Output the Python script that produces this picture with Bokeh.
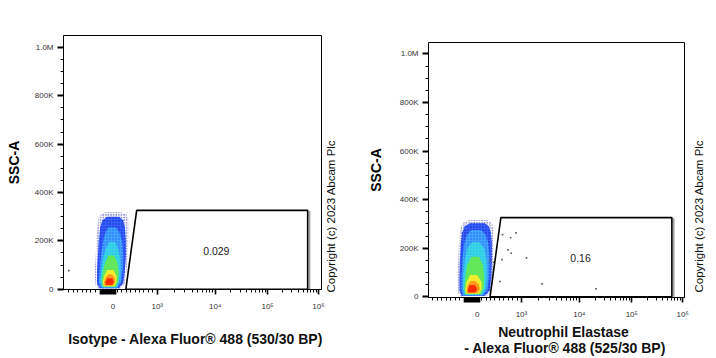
import numpy as np
from bokeh.plotting import figure
from bokeh.models import Range1d, FixedTicker
from bokeh.layouts import row, column
from bokeh.embed import file_html
from bokeh.resources import INLINE
from bokeh.core.properties import value

FONT = "Liberation Sans"

# ---------------- axis scale (biexponential-like display) ----------------
LIN_LIMIT = 1000.0
DECADES = [3, 4, 5, 6]
DECADE_POS = [44.25, 102.2, 154.55, 205.4]


def tx(v):
    v = np.asarray(v, dtype=float)
    lin = v * DECADE_POS[0] / LIN_LIMIT
    lg = np.interp(np.log10(np.maximum(v, LIN_LIMIT)), DECADES, DECADE_POS)
    return np.where(v > LIN_LIMIT, lg, lin)


# ---------------- tick values / labels ----------------
X_TICK_VALUES = [0, 1e3, 1e4, 1e5, 1e6]
X_TICK_LABELS = ["0", "10\u00b3", "10\u2074", "10\u2075", "10\u2076"]
Y_TICK_VALUES = [0, 200e3, 400e3, 600e3, 800e3, 1e6]
Y_TICK_LABELS = ["0", "200K", "400K", "600K", "800K", "1.0M"]
Y_MINOR_STEP = 50e3
X_NEAR_ZERO = list(range(-280, 61, 20))          # dense ticks around zero
X_LINEAR_MINOR = [v for v in range(-1000, 1000, 100) if not -300 <= v <= 60]
X_LOG_MINOR = [k * 10 ** d for d in (3, 4, 5) for k in range(2, 10)]

# ---------------- gate ----------------
GATE_X = [290, 535, 6.15e5, 6.15e5]
GATE_Y = [0, 326e3, 326e3, 0]
GATE_LABEL_X = 1.05e4
GATE_LABEL_Y = 160e3
ISO_GATE_TEXT = "0.029"
NE_GATE_TEXT = "0.16"

# ---------------- density levels (outer -> core): SSC y, FL left/right ----------------
LEVEL_COLORS = ["#1414a8", "#3560ff", "#3fa6ff", "#34d8e0",
                "#62e85a", "#f2ee2e", "#ff9a1a", "#ff2a00"]
LEVEL_SPECKLE = ["#1414a8", "#1020b8", "#2a5cff", "#3fa6ff", None, None, None, None]

ISO_L1 = dict(y=[1e3, 20e3, 80e3, 140e3, 220e3, 280e3, 300e3, 312e3, 318e3],
              xl=[-330, -400, -410, -390, -370, -340, -310, -260, -160],
              xr=[150, 260, 310, 330, 350, 350, 330, 290, 200])
ISO_L2 = dict(y=[4e3, 25e3, 80e3, 140e3, 200e3, 255e3, 285e3, 300e3],
              xl=[-300, -360, -360, -340, -320, -290, -240, -130],
              xr=[130, 230, 270, 290, 290, 270, 230, 140])
ISO_L3 = dict(y=[6e3, 30e3, 80e3, 140e3, 190e3, 230e3, 255e3],
              xl=[-270, -320, -300, -270, -230, -180, -100],
              xr=[100, 180, 220, 230, 210, 160, 70])
ISO_L4 = dict(y=[8e3, 35e3, 80e3, 130e3, 170e3, 195e3],
              xl=[-250, -290, -260, -220, -160, -80],
              xr=[80, 140, 170, 160, 110, 40])
ISO_L5 = dict(y=[10e3, 35e3, 70e3, 110e3, 140e3],
              xl=[-230, -260, -230, -180, -100],
              xr=[60, 120, 130, 100, 30])
ISO_L6 = dict(y=[12e3, 30e3, 55e3, 80e3],
              xl=[-210, -230, -200, -130],
              xr=[30, 80, 80, 10])
ISO_L7 = dict(y=[15e3, 30e3, 48e3, 62e3],
              xl=[-190, -200, -170, -110],
              xr=[0, 50, 40, -20])
ISO_L8 = dict(y=[18e3, 30e3, 45e3],
              xl=[-170, -170, -130],
              xr=[-20, 20, -10])

NE_L1 = dict(y=[1e3, 20e3, 80e3, 150e3, 230e3, 280e3, 300e3, 310e3, 316e3],
             xl=[-380, -440, -450, -430, -410, -380, -340, -290, -180],
             xr=[200, 320, 360, 370, 370, 360, 340, 300, 230])
NE_L2 = dict(y=[4e3, 25e3, 80e3, 150e3, 220e3, 265e3, 290e3, 303e3],
             xl=[-350, -400, -400, -390, -370, -340, -280, -160],
             xr=[170, 280, 320, 330, 330, 310, 260, 170])
NE_L3 = dict(y=[6e3, 30e3, 90e3, 160e3, 220e3, 255e3, 275e3],
             xl=[-320, -360, -350, -330, -290, -230, -130],
             xr=[140, 230, 270, 280, 250, 190, 90])
NE_L4 = dict(y=[8e3, 35e3, 90e3, 150e3, 200e3, 225e3],
             xl=[-290, -320, -310, -280, -220, -120],
             xr=[110, 190, 220, 210, 160, 50])
NE_L5 = dict(y=[10e3, 35e3, 80e3, 130e3, 165e3],
             xl=[-270, -290, -270, -230, -130],
             xr=[80, 150, 160, 130, 40])
NE_L6 = dict(y=[12e3, 30e3, 60e3, 90e3],
             xl=[-250, -270, -240, -160],
             xr=[40, 100, 100, 0])
NE_L7 = dict(y=[15e3, 30e3, 50e3, 65e3],
             xl=[-230, -240, -210, -150],
             xr=[0, 60, 40, -40])
NE_L8 = dict(y=[18e3, 30e3, 48e3],
             xl=[-210, -210, -170],
             xr=[-50, 0, -50])

# ---------------- sparse events ----------------
ISO_OUT_X = [-1000]
ISO_OUT_Y = [77e3]
NE_OUT_X = [572, 877, 757, 696, 768, 560, 1222, 511, 2265, 20750, 294, 375]
NE_OUT_Y = [256e3, 263e3, 243e3, 193e3, 179e3, 153e3, 160e3, 63e3, 53e3, 33e3, 149e3, 142e3]

ISO_XLABEL = ["Isotype - Alexa Fluor\u00ae 488 (530/30 BP)"]
NE_XLABEL = ["Neutrophil Elastase", "- Alexa Fluor\u00ae 488 (525/30 BP)"]
Y_LABEL = "SSC-A"
COPYRIGHT = "Copyright (c) 2023 Abcam Plc"


def strip(w, h):
    s = figure(width=w, height=h, x_range=Range1d(0, w), y_range=Range1d(0, h),
               output_backend="svg", toolbar_location=None,
               x_axis_location=None, y_axis_location=None, min_border=0)
    s.grid.visible = False
    s.outline_line_color = None
    s.background_fill_color = "white"
    s.border_fill_color = "white"
    return s


def make_panel(levels, out_x, out_y, gate_text, geom, ylabel_standoff):
    fl, ft, fw, fh, xrng, yrng, w, h = geom
    p = figure(width=w, height=h, x_range=Range1d(*xrng), y_range=Range1d(*yrng),
               output_backend="svg", toolbar_location=None,
               min_border_left=fl, min_border_right=w - (fl + fw),
               min_border_top=ft, min_border_bottom=h - ft - fh)
    p.grid.visible = False
    p.outline_line_color = "black"
    p.outline_line_width = 1
    p.background_fill_color = "white"
    p.border_fill_color = "white"

    # density levels
    for lev, col, spk in zip(levels, LEVEL_COLORS, LEVEL_SPECKLE):
        if col == LEVEL_COLORS[0]:
            p.harea(y=lev["y"], x1=tx(lev["xl"]), x2=tx(lev["xr"]), fill_alpha=0,
                    hatch_pattern="dot", hatch_color=col, hatch_scale=2.6, hatch_weight=1.1)
        elif spk is not None:
            p.harea(y=lev["y"], x1=tx(lev["xl"]), x2=tx(lev["xr"]), fill_color=col,
                    hatch_pattern="dot", hatch_color=spk, hatch_scale=3, hatch_weight=1.0)
        else:
            p.harea(y=lev["y"], x1=tx(lev["xl"]), x2=tx(lev["xr"]), fill_color=col)

    # sparse events
    p.scatter(x=tx(out_x), y=out_y, marker="square", size=1.6, fill_color="#555555", line_color=None)

    # gate
    gx = tx(GATE_X)
    p.line(x=[gx[2] + 1.8, gx[3] + 1.8], y=[GATE_Y[2] - 3e3, GATE_Y[3]], line_color="#a0a0a0", line_width=1.8)
    p.patch(x=gx, y=GATE_Y, fill_alpha=0, line_color="black", line_width=1.6)
    p.text(x=tx([GATE_LABEL_X]), y=[GATE_LABEL_Y], text=[gate_text], text_font=value(FONT),
           text_font_size="10.5px", text_align="center", text_baseline="middle", text_color="#222222")

    # x axis
    major = [float(tx(v)) for v in X_TICK_VALUES] + [float(tx(v)) for v in X_NEAR_ZERO if v != 0]
    minor = [float(tx(v)) for v in X_LINEAR_MINOR + X_LOG_MINOR]
    overrides = {float(tx(v)): lab for v, lab in zip(X_TICK_VALUES, X_TICK_LABELS)}
    for v in X_NEAR_ZERO:
        if v != 0:
            overrides[float(tx(v))] = ""
    xa = p.xaxis[0]
    xa.ticker = FixedTicker(ticks=major, minor_ticks=minor)
    xa.major_label_overrides = overrides
    xa.major_tick_out = 5
    xa.major_tick_in = 0
    xa.minor_tick_out = 3
    xa.minor_tick_in = 0
    xa.major_tick_line_width = 1.6
    xa.axis_line_color = "black"
    xa.major_label_standoff = 7
    xa.major_label_text_font = FONT
    xa.major_label_text_font_size = "8px"
    xa.major_label_text_color = "#333333"

    # y axis
    ya = p.yaxis[0]
    ya.ticker = FixedTicker(ticks=Y_TICK_VALUES,
                            minor_ticks=[i * Y_MINOR_STEP for i in range(0, 22)])
    ya.major_label_overrides = {v: lab for v, lab in zip(Y_TICK_VALUES, Y_TICK_LABELS)}
    ya.major_tick_out = 6
    ya.major_tick_in = 0
    ya.minor_tick_out = 3
    ya.minor_tick_in = 0
    ya.major_tick_line_width = 2
    ya.major_label_standoff = 4
    ya.major_label_text_font = FONT
    ya.major_label_text_font_size = "8px"
    ya.major_label_text_color = "#333333"
    ya.axis_label = Y_LABEL
    ya.axis_label_text_font = FONT
    ya.axis_label_text_font_size = "14px"
    ya.axis_label_text_font_style = "bold"
    ya.axis_label_text_color = "black"
    ya.axis_label_standoff = ylabel_standoff
    return p


def text_strip(w, h, lines, pos, size, style, angle=0.0, align="center"):
    s = strip(w, h)
    s.text(x=[q[0] for q in pos], y=[q[1] for q in pos], text=lines, angle=angle,
           text_font=value(FONT), text_font_size=size, text_font_style=style,
           text_align=align, text_baseline="middle", text_color="#111111")
    return s


PANEL_H = 322
left = make_panel([ISO_L1, ISO_L2, ISO_L3, ISO_L4, ISO_L5, ISO_L6, ISO_L7, ISO_L8],
                  ISO_OUT_X, ISO_OUT_Y, ISO_GATE_TEXT,
                  (63, 35, 258, 254, (-49.5, 208.5), (-1000, 1.049e6), 326, PANEL_H), 10)
right = make_panel([NE_L1, NE_L2, NE_L3, NE_L4, NE_L5, NE_L6, NE_L7, NE_L8],
                   NE_OUT_X, NE_OUT_Y, NE_GATE_TEXT,
                   (70, 42, 256, 255, (-48.7, 207.3), (-3000, 1.047e6), 332, PANEL_H), 13)

left_copy = text_strip(32, PANEL_H, [COPYRIGHT], [(4.5, 30)], "11.5px", "normal", angle=np.pi / 2, align="left")
right_copy = text_strip(26, PANEL_H, [COPYRIGHT], [(8.5, 30)], "11.5px", "normal", angle=np.pi / 2, align="left")
titles = text_strip(716, 358 - PANEL_H, ISO_XLABEL + NE_XLABEL,
                    [(195, 20), (563, 27), (564.5, 11)], "14px", "bold")

# wrap each piece in its own column so that frames are not aligned across the row
top = row(column(left, spacing=0), column(left_copy, spacing=0),
          column(right, spacing=0), column(right_copy, spacing=0), spacing=0)
layout = column(top, titles, spacing=0)
open("out.html", "w").write(file_html(layout, INLINE))
